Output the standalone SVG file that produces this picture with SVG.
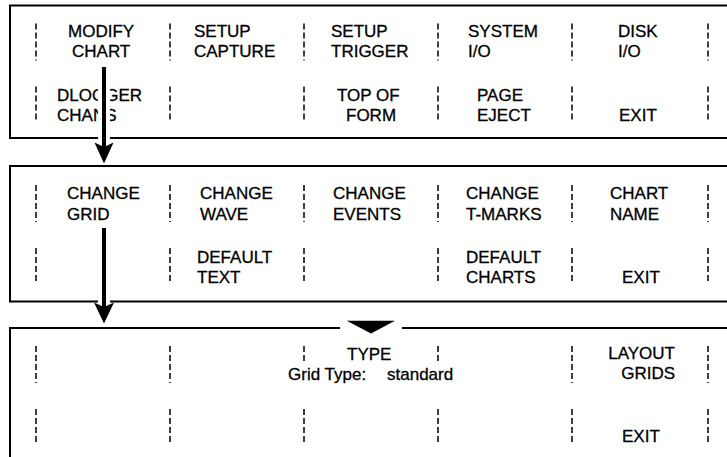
<svg xmlns="http://www.w3.org/2000/svg" width="727" height="457" viewBox="0 0 727 457">
  <style>
    .frame { fill: none; stroke: #000; stroke-width: 2; }
    .sep { fill: none; stroke: #000; stroke-width: 1.5; stroke-dasharray: 6 3; }
    text { font-family: "Liberation Sans", Arial, Helvetica, sans-serif; font-size: 17px; fill: #000; stroke: #000; stroke-width: 0.3; }
    .end { text-anchor: end; }
    .halo { stroke: #fff; stroke-width: 12; fill: none; }
    .shaft { stroke: #000; stroke-width: 4; fill: none; }
    .head { fill: #000; stroke: none; }
  </style>
  <defs>
    <!-- dashed softkey dividers for one menu strip, relative to its top edge -->
    <g id="dividers">
      <path class="sep" d="M36 18v37M170 18v37M304 18v37M438 18v37M572 18v37M708 18v37"/>
      <path class="sep" d="M36 81v36M170 81v36M304 81v36M438 81v36M572 81v36M708 81v36"/>
    </g>
  </defs>
  <rect width="727" height="457" fill="#fff"/>

  <!-- main menu -->
  <g id="menu-main">
    <rect class="frame" x="10" y="5.5" width="725" height="132.5"/>
    <use href="#dividers" y="5.5"/>
    <text x="68" y="37">MODIFY</text><text x="72" y="57">CHART</text>
    <text x="194" y="37">SETUP</text><text x="194" y="57">CAPTURE</text>
    <text x="331" y="37">SETUP</text><text x="331" y="57">TRIGGER</text>
    <text x="468" y="37">SYSTEM</text><text x="468" y="57">I/O</text>
    <text x="618" y="37">DISK</text><text x="618" y="57">I/O</text>
    <text x="57" y="101">DLOGGER</text><text x="57" y="121">CHANS</text>
    <text x="337" y="101">TOP OF</text><text x="346" y="121">FORM</text>
    <text x="477" y="101">PAGE</text><text x="477" y="121">EJECT</text>
    <text x="619" y="121">EXIT</text>
  </g>

  <!-- modify chart menu -->
  <g id="menu-chart">
    <rect class="frame" x="10" y="166" width="725" height="135.5"/>
    <use href="#dividers" y="167"/>
    <text x="67" y="199">CHANGE</text><text x="67" y="220">GRID</text>
    <text x="200" y="199">CHANGE</text><text x="200" y="220">WAVE</text>
    <text x="333" y="199">CHANGE</text><text x="333" y="220">EVENTS</text>
    <text x="466" y="199">CHANGE</text><text x="466" y="220">T-MARKS</text>
    <text x="610" y="199">CHART</text><text x="610" y="220">NAME</text>
    <text x="197" y="263">DEFAULT</text><text x="197" y="283">TEXT</text>
    <text x="466" y="263">DEFAULT</text><text x="466" y="283">CHARTS</text>
    <text x="622" y="283">EXIT</text>
  </g>

  <!-- change grid menu; the TYPE key dividers stop short of the status line -->
  <g id="menu-grid">
    <path class="frame" d="M10 465V328H340M402 328H735"/>
    <path class="head" d="M346.7 320.7H395L371 333.5Z"/>
    <path class="sep" d="M36 346v37M170 346v37M304 346v16M438 346v16M572 346v37M708 346v37"/>
    <path class="sep" d="M36 409v36M170 409v36M304 409v36M438 409v36M572 409v36M708 409v36"/>
    <text x="347" y="360">TYPE</text>
    <text x="288" y="380">Grid Type:<tspan x="387">standard</tspan></text>
    <text class="end" x="675" y="359">LAYOUT</text><text class="end" x="675" y="379">GRIDS</text>
    <text x="622" y="442">EXIT</text>
  </g>

  <!-- menu transitions -->
  <g id="connectors">
    <path class="halo" d="M104 64V142"/>
    <path class="shaft" d="M104 67V148"/>
    <path class="head" d="M104 163.5L94.5 142.5L104 147L113.5 142.5Z"/>
    <path class="halo" d="M104 225V303"/>
    <path class="shaft" d="M104 228V308"/>
    <path class="head" d="M104 323.5L94 302.5L104 307L114 302.5Z"/>
  </g>
</svg>
